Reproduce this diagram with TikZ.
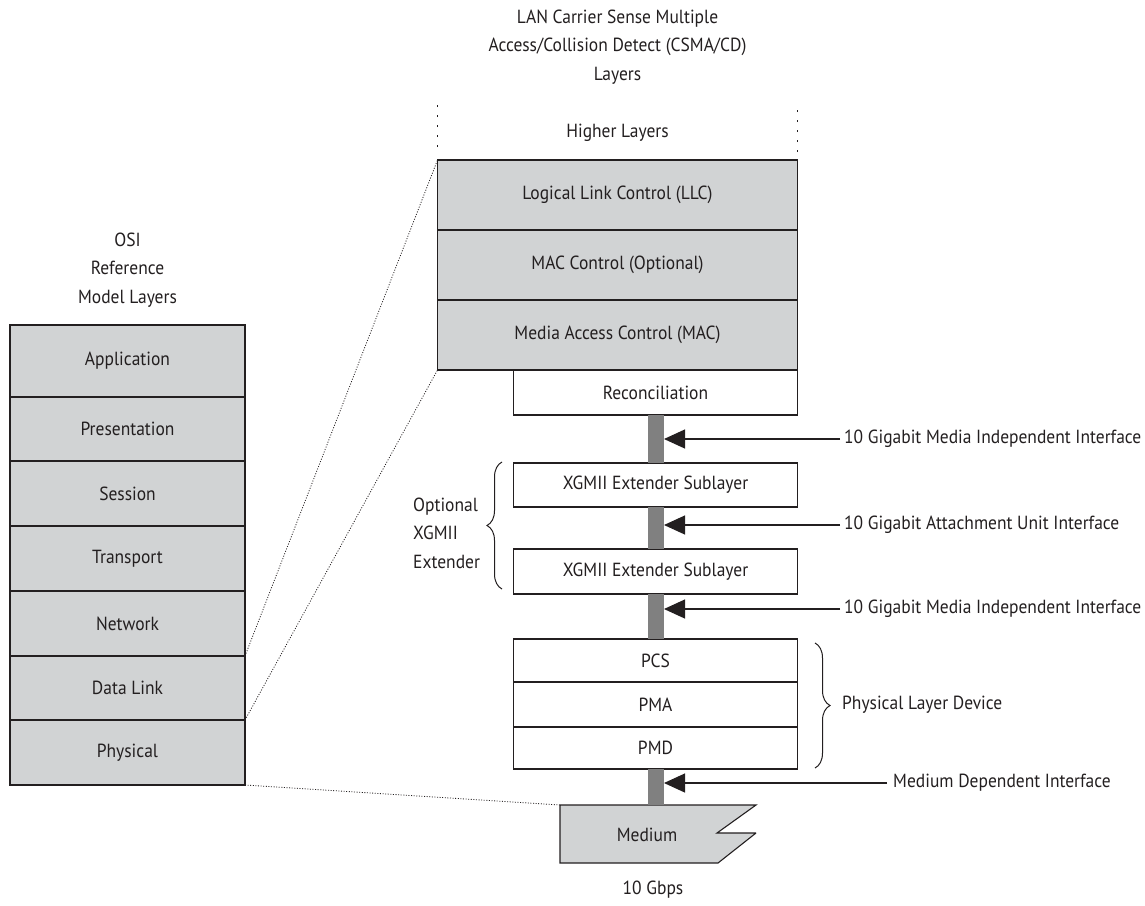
\documentclass[tikz,border=0pt]{standalone}
\usepackage{fontspec}
\setmainfont{PT Sans}[FakeStretch=0.92]
\usetikzlibrary{arrows.meta,positioning,decorations.pathreplacing}
\definecolor{layergray}{HTML}{D1D3D4}
\definecolor{busgray}{HTML}{808080}
\definecolor{inkline}{HTML}{231F20}

\begin{document}
\begin{tikzpicture}[x=1pt, y=-1pt,
  every node/.style={font=\fontsize{19}{28.5}\selectfont, text=inkline, align=center},
  osi/.style={draw=inkline, fill=layergray, line width=1.1pt, minimum width=235pt,
              inner sep=0pt, outer sep=0pt},
  lan/.style={osi, minimum width=360pt, minimum height=70pt},
  sub/.style={draw=inkline, fill=white, line width=1.1pt, minimum width=284pt,
              inner sep=0pt, outer sep=0pt},
  iface/.style={anchor=west, inner sep=4pt},
  bus/.style={draw=busgray, line width=16pt},
  arr/.style={-{Triangle[length=21pt, width=19pt]}, line width=1.1pt, draw=inkline},
  dots/.style={draw=inkline, line width=0.8pt, dash pattern=on 1pt off 1.6pt},
  sparse/.style={draw=inkline, line width=1.8pt, dash pattern=on 1.8pt off 8.2pt},
  brace/.style={draw=inkline, line width=1pt, decorate,
                decoration={brace, amplitude=15pt, aspect=0.5}},
]
  \useasboundingbox (0,0) rectangle (1145,905);

  % OSI stack
  \node (osititle) at (127.5,270) {OSI\\Reference\\Model Layers};
  \node[osi, minimum height=72pt, anchor=north] (app) at (127.5,325) {Application};
  \node[osi, minimum height=64pt, below=0pt of app] (pres) {Presentation};
  \node[osi, minimum height=65pt, below=0pt of pres] (sess) {Session};
  \node[osi, minimum height=65pt, below=0pt of sess] (trans) {Transport};
  \node[osi, minimum height=65pt, below=0pt of trans] (netw) {Network};
  \node[osi, minimum height=64pt, below=0pt of netw] (dlink) {Data Link};
  \node[osi, minimum height=65pt, below=0pt of dlink] (phys) {Physical};

  % CSMA/CD stack
  \node (lantitle) at (617.5,47) {LAN Carrier Sense Multiple\\Access/Collision Detect (CSMA/CD)\\Layers};
  \node (higher) at (617.5,133) {Higher Layers};
  \node[lan, anchor=north] (llc) at (617.5,160) {Logical Link Control (LLC)};
  \node[lan, below=0pt of llc] (macctl) {MAC Control (Optional)};
  \node[lan, below=0pt of macctl] (mac) {Media Access Control (MAC)};
  \node[sub, minimum height=45pt, anchor=north east] (recon) at (mac.south east) {Reconciliation};
  \node[sub, minimum height=44pt, below=48pt of recon] (xgx1) {XGMII Extender Sublayer};
  \node[sub, minimum height=45pt, below=42pt of xgx1] (xgx2) {XGMII Extender Sublayer};
  \node[sub, minimum height=43pt, below=45pt of xgx2] (pcs) {PCS};
  \node[sub, minimum height=45pt, below=0pt of pcs] (pma) {PMA};
  \node[sub, minimum height=42pt, below=0pt of pma] (pmd) {PMD};

  % medium
  \coordinate (medtl) at (560,805);
  \fill[layergray] (medtl) -- (756,805) -- (717,833) -- (756,833) -- (718,863) -- (560,863) -- cycle;
  \draw[inkline, line width=1.1pt] (756,833) -- (718,863) -- (560,863) -- (medtl) -- (756,805) -- (717,833) -- (756,833);
  \node (medium) at (647,835) {Medium};
  \node (rate) at (653,890) {10 Gbps};

  % buses
  \draw[bus] (recon.south) -- (xgx1.north);
  \draw[bus] (xgx1.south) -- (xgx2.north);
  \draw[bus] (xgx2.south) -- (pcs.north);
  \draw[bus] (pmd.south) -- (pmd.south |- medtl);

  % interfaces
  \coordinate (busedge) at (664,0);
  \node[iface] (xgmii1) at (840,439) {10 Gigabit Media Independent Interface};
  \node[iface] (xaui) at (840,525) {10 Gigabit Attachment Unit Interface};
  \node[iface] (xgmii2) at (840,609) {10 Gigabit Media Independent Interface};
  \node[iface, inner sep=6pt] (mdi) at (887,783) {Medium Dependent Interface};
  \draw[arr] (xgmii1.west) -- (xgmii1.west -| busedge);
  \draw[arr] (xaui.west) -- (xaui.west -| busedge);
  \draw[arr] (xgmii2.west) -- (xgmii2.west -| busedge);
  \draw[arr] (mdi.west) -- (mdi.west -| busedge);

  % braces
  \coordinate (xtop) at (502,462);
  \coordinate (xbot) at (502,589);
  \draw[brace] (xbot) -- (xtop);
  \node[align=left, anchor=west, inner sep=0pt] (optx) at (413,533) {Optional\\XGMII\\Extender};
  \coordinate (ptop) at (815,643);
  \coordinate (pbot) at (815,768);
  \draw[brace] (ptop) -- (pbot);
  \node[iface] (phydev) at (838,705) {Physical Layer Device};

  % mapping lines
  \draw[dots] (netw.south east) -- (llc.north west);
  \draw[dots] (dlink.south east) -- (mac.south west);
  \draw[dots] (phys.south east) -- (medtl);
  \draw[sparse] ([yshift=13pt]llc.north west) -- ++(0,-44);
  \draw[sparse] ([yshift=8pt]llc.north east) -- ++(0,-44);
\end{tikzpicture}
\end{document}
